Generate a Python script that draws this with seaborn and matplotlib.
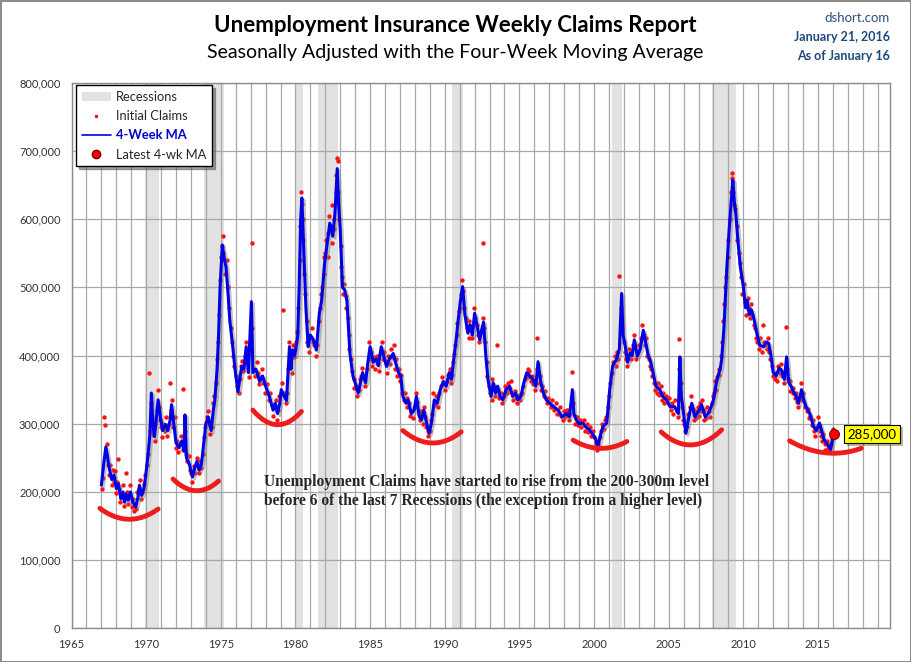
import numpy as np
import pandas as pd
import matplotlib
matplotlib.use("Agg")
import matplotlib.pyplot as plt
import matplotlib.patheffects as pe
from matplotlib.patches import Patch
from matplotlib.lines import Line2D
from matplotlib.ticker import FuncFormatter
import seaborn as sns

# 4-week moving average, (year, thousands of claims)
ma_60s = [(1967.00, 210), (1967.15, 240), (1967.30, 266), (1967.45, 245), (1967.55, 232), (1967.70, 218),
          (1967.85, 225), (1968.00, 205), (1968.15, 212), (1968.30, 190), (1968.45, 200), (1968.55, 185),
          (1968.65, 197), (1968.80, 188), (1968.95, 200), (1969.10, 185), (1969.30, 178), (1969.45, 192),
          (1969.55, 210), (1969.70, 195), (1969.85, 205)]
ma_70s = [(1970.00, 230), (1970.15, 260), (1970.25, 285), (1970.35, 345), (1970.45, 300), (1970.55, 281),
          (1970.65, 300), (1970.80, 335), (1970.95, 310), (1971.10, 290), (1971.30, 299), (1971.45, 290),
          (1971.60, 305), (1971.70, 328), (1971.85, 300), (1972.00, 272), (1972.20, 265), (1972.40, 275),
          (1972.55, 260), (1972.60, 313), (1972.70, 250), (1972.90, 240), (1973.10, 222), (1973.25, 235),
          (1973.40, 245), (1973.55, 232), (1973.70, 240), (1973.85, 270), (1974.00, 300), (1974.15, 310),
          (1974.35, 290), (1974.50, 320), (1974.60, 335), (1974.75, 380), (1974.85, 430), (1974.95, 500),
          (1975.10, 562), (1975.25, 540), (1975.35, 530), (1975.50, 486), (1975.60, 452), (1975.80, 413),
          (1975.95, 380), (1976.15, 347), (1976.30, 370), (1976.40, 384), (1976.55, 380), (1976.70, 413),
          (1976.85, 375), (1977.05, 479), (1977.15, 375), (1977.35, 380), (1977.60, 362), (1977.80, 370),
          (1978.05, 352), (1978.25, 340), (1978.50, 320), (1978.65, 330), (1978.80, 315), (1978.95, 330),
          (1979.05, 350), (1979.25, 340), (1979.40, 334), (1979.60, 413), (1979.70, 380), (1979.80, 408),
          (1979.95, 400)]
ma_80s = [(1980.15, 428), (1980.25, 500), (1980.35, 600), (1980.43, 631), (1980.55, 560), (1980.70, 470),
          (1980.85, 413), (1981.00, 430), (1981.20, 423), (1981.40, 408), (1981.60, 462), (1981.75, 480),
          (1981.95, 535), (1982.10, 560), (1982.30, 594), (1982.50, 575), (1982.65, 610), (1982.80, 674),
          (1982.90, 620), (1983.00, 584), (1983.15, 500), (1983.30, 496), (1983.45, 480), (1983.65, 403),
          (1983.85, 370), (1984.00, 360), (1984.20, 345), (1984.35, 360), (1984.50, 375), (1984.70, 360),
          (1984.85, 390), (1985.00, 413), (1985.20, 390), (1985.40, 395), (1985.55, 385), (1985.75, 413),
          (1985.90, 400), (1986.10, 384), (1986.30, 395), (1986.55, 403), (1986.70, 390), (1986.90, 375),
          (1987.05, 370), (1987.20, 340), (1987.40, 330), (1987.55, 335), (1987.75, 315), (1987.95, 320),
          (1988.10, 340), (1988.30, 310), (1988.45, 306), (1988.60, 320), (1988.80, 300), (1988.95, 286),
          (1989.10, 300), (1989.30, 335), (1989.50, 330), (1989.70, 350), (1989.90, 362)]
ma_90s = [(1990.10, 355), (1990.30, 375), (1990.45, 365), (1990.60, 394), (1990.75, 420), (1990.90, 452),
          (1991.05, 480), (1991.20, 501), (1991.35, 460), (1991.55, 433), (1991.70, 445), (1991.85, 430),
          (1992.00, 462), (1992.20, 440), (1992.35, 423), (1992.50, 440), (1992.60, 449), (1992.75, 400),
          (1992.90, 364), (1993.10, 340), (1993.25, 360), (1993.40, 345), (1993.55, 355), (1993.70, 340),
          (1993.90, 335), (1994.10, 350), (1994.35, 355), (1994.55, 340), (1994.75, 345), (1994.90, 335),
          (1995.10, 340), (1995.30, 360), (1995.50, 375), (1995.70, 370), (1995.95, 364), (1996.10, 355),
          (1996.25, 391), (1996.40, 365), (1996.60, 345), (1996.80, 335), (1997.05, 330), (1997.30, 325),
          (1997.60, 320), (1997.85, 310), (1998.15, 315), (1998.35, 310), (1998.55, 350), (1998.65, 315),
          (1998.80, 306), (1999.00, 300), (1999.25, 301), (1999.45, 295), (1999.70, 291), (1999.90, 285)]
ma_00s = [(2000.10, 278), (2000.25, 266), (2000.45, 285), (2000.60, 296), (2000.85, 301), (2001.05, 350),
          (2001.25, 385), (2001.50, 394), (2001.70, 410), (2001.85, 491), (2001.95, 430), (2002.10, 413),
          (2002.25, 390), (2002.40, 403), (2002.55, 400), (2002.70, 423), (2002.90, 399), (2003.10, 410),
          (2003.30, 437), (2003.45, 420), (2003.60, 403), (2003.80, 390), (2003.95, 375), (2004.15, 355),
          (2004.40, 350), (2004.60, 340), (2004.85, 335), (2005.10, 325), (2005.40, 325), (2005.65, 315),
          (2005.75, 398), (2005.85, 340), (2006.00, 315), (2006.15, 286), (2006.35, 310), (2006.55, 330),
          (2006.75, 310), (2006.90, 315), (2007.05, 320), (2007.20, 328), (2007.45, 310), (2007.65, 315),
          (2007.85, 325), (2008.00, 335), (2008.15, 355), (2008.30, 370), (2008.45, 380), (2008.55, 394),
          (2008.70, 440), (2008.75, 462), (2008.90, 530), (2009.05, 584), (2009.20, 630), (2009.30, 657),
          (2009.40, 625), (2009.50, 608), (2009.65, 565), (2009.80, 530)]
ma_10s = [(2010.00, 501), (2010.15, 470), (2010.25, 481), (2010.40, 460), (2010.55, 467), (2010.75, 450),
          (2010.90, 433), (2011.10, 415), (2011.35, 413), (2011.55, 420), (2011.70, 418), (2011.85, 400),
          (2012.00, 375), (2012.20, 370), (2012.40, 382), (2012.55, 379), (2012.75, 365), (2012.90, 398),
          (2013.05, 360), (2013.20, 355), (2013.40, 345), (2013.55, 340), (2013.70, 330), (2013.90, 350),
          (2014.05, 335), (2014.20, 325), (2014.45, 315), (2014.70, 296), (2014.90, 290), (2015.10, 301),
          (2015.25, 290), (2015.40, 277), (2015.55, 272), (2015.70, 268), (2015.85, 262), (2016.05, 285)]

# weekly initial claims (a readable subset of the dots), thousands
claims_60s = [(1967.02, 205), (1967.08, 220), (1967.15, 310), (1967.22, 298), (1967.28, 255), (1967.35, 270),
              (1967.42, 240), (1967.5, 225), (1967.6, 240), (1967.68, 210), (1967.75, 232), (1967.82, 215),
              (1967.9, 230), (1968.0, 198), (1968.07, 215), (1968.12, 248), (1968.2, 205), (1968.28, 185),
              (1968.35, 195), (1968.42, 210), (1968.5, 180), (1968.58, 192), (1968.62, 228), (1968.7, 200),
              (1968.78, 182), (1968.88, 195), (1968.95, 210), (1969.02, 178), (1969.1, 190), (1969.18, 172),
              (1969.25, 183), (1969.35, 175), (1969.4, 200), (1969.5, 205), (1969.58, 218), (1969.65, 190),
              (1969.75, 200), (1969.85, 212), (1969.95, 225)]
claims_70s = [(1970.05, 240), (1970.12, 255), (1970.2, 374), (1970.28, 290), (1970.32, 330), (1970.4, 310),
              (1970.48, 285), (1970.58, 275), (1970.62, 300), (1970.7, 320), (1970.78, 350), (1970.85, 325),
              (1970.92, 305), (1971.0, 295), (1971.08, 280), (1971.15, 300), (1971.25, 290), (1971.35, 310),
              (1971.42, 282), (1971.5, 300), (1971.58, 360), (1971.65, 320), (1971.75, 335), (1971.82, 295),
              (1971.9, 310), (1971.98, 265), (1972.08, 275), (1972.15, 258), (1972.25, 270), (1972.32, 282),
              (1972.45, 351), (1972.5, 262), (1972.58, 290), (1972.65, 255), (1972.75, 245), (1972.85, 252),
              (1972.95, 232), (1973.02, 228), (1973.1, 215), (1973.18, 238), (1973.3, 228), (1973.38, 250),
              (1973.45, 240), (1973.52, 228), (1973.6, 245), (1973.68, 235), (1973.78, 255), (1973.88, 280),
              (1973.95, 295), (1974.05, 310), (1974.12, 318), (1974.2, 300), (1974.3, 285), (1974.42, 295),
              (1974.48, 330), (1974.55, 340), (1974.65, 360), (1974.72, 395), (1974.8, 420), (1974.88, 460),
              (1974.92, 510), (1975.0, 545), (1975.05, 560), (1975.12, 575), (1975.18, 550), (1975.3, 520),
              (1975.4, 540), (1975.45, 500), (1975.55, 470), (1975.65, 440), (1975.72, 420), (1975.85, 400),
              (1975.9, 385), (1976.02, 370), (1976.1, 355), (1976.2, 345), (1976.28, 365), (1976.35, 385),
              (1976.45, 392), (1976.52, 378), (1976.62, 400), (1976.68, 420), (1976.78, 390), (1976.9, 368),
              (1977.0, 420), (1977.08, 565), (1977.12, 440), (1977.22, 380), (1977.3, 370), (1977.4, 390),
              (1977.5, 375), (1977.55, 358), (1977.65, 368), (1977.75, 380), (1977.85, 360), (1977.95, 345),
              (1978.1, 358), (1978.2, 335), (1978.3, 345), (1978.4, 328), (1978.48, 312), (1978.58, 325),
              (1978.7, 335), (1978.75, 305), (1978.85, 320), (1978.92, 340), (1979.0, 345), (1979.1, 360),
              (1979.2, 467), (1979.3, 345), (1979.35, 330), (1979.45, 345), (1979.52, 380), (1979.58, 420),
              (1979.65, 395), (1979.75, 375), (1979.82, 415), (1979.9, 398), (1979.98, 410)]
claims_80s = [(1980.05, 420), (1980.12, 435), (1980.2, 470), (1980.28, 540), (1980.32, 590), (1980.38, 640),
              (1980.42, 622), (1980.48, 600), (1980.52, 570), (1980.6, 520), (1980.65, 490), (1980.75, 450),
              (1980.8, 420), (1980.9, 405), (1980.98, 425), (1981.08, 440), (1981.15, 420), (1981.25, 415),
              (1981.35, 400), (1981.45, 415), (1981.55, 450), (1981.65, 470), (1981.7, 490), (1981.8, 500),
              (1981.88, 520), (1981.92, 545), (1982.0, 550), (1982.05, 570), (1982.15, 545), (1982.2, 580),
              (1982.28, 605), (1982.35, 590), (1982.42, 620), (1982.48, 565), (1982.55, 585), (1982.6, 600),
              (1982.7, 640), (1982.75, 665), (1982.78, 690), (1982.82, 685), (1982.88, 640), (1982.95, 600),
              (1983.02, 560), (1983.08, 530), (1983.12, 515), (1983.2, 490), (1983.28, 505), (1983.38, 488),
              (1983.42, 470), (1983.5, 455), (1983.58, 430), (1983.62, 410), (1983.72, 395), (1983.8, 378),
              (1983.9, 365), (1983.95, 352), (1984.05, 355), (1984.12, 340), (1984.25, 350), (1984.3, 365),
              (1984.42, 370), (1984.48, 382), (1984.58, 365), (1984.65, 355), (1984.78, 380), (1984.9, 395),
              (1984.95, 420), (1985.05, 405), (1985.12, 385), (1985.25, 398), (1985.32, 380), (1985.45, 400),
              (1985.5, 388), (1985.6, 378), (1985.7, 405), (1985.8, 420), (1985.85, 395), (1985.95, 405),
              (1986.05, 392), (1986.15, 375), (1986.22, 400), (1986.35, 388), (1986.42, 410), (1986.5, 398),
              (1986.6, 415), (1986.65, 380), (1986.75, 395), (1986.82, 370), (1986.95, 380), (1987.0, 362),
              (1987.1, 372), (1987.15, 345), (1987.25, 335), (1987.32, 345), (1987.45, 325), (1987.5, 338),
              (1987.6, 330), (1987.68, 312), (1987.8, 318), (1987.88, 308), (1988.0, 325), (1988.05, 345),
              (1988.15, 332), (1988.25, 315), (1988.35, 305), (1988.4, 318), (1988.52, 300), (1988.58, 325),
              (1988.68, 310), (1988.75, 295), (1988.85, 290), (1988.9, 282), (1989.0, 290), (1989.05, 305),
              (1989.15, 315), (1989.22, 345), (1989.35, 328), (1989.42, 340), (1989.55, 325), (1989.62, 345),
              (1989.75, 355), (1989.82, 368), (1989.95, 358)]
claims_90s = [(1990.05, 350), (1990.15, 362), (1990.22, 372), (1990.35, 380), (1990.4, 360), (1990.5, 372),
              (1990.55, 390), (1990.65, 402), (1990.7, 415), (1990.8, 430), (1990.85, 448), (1990.95, 465),
              (1991.0, 470), (1991.1, 490), (1991.15, 510), (1991.25, 495), (1991.3, 470), (1991.4, 455),
              (1991.48, 440), (1991.6, 425), (1991.65, 450), (1991.75, 440), (1991.8, 425), (1991.92, 445),
              (1991.98, 470), (1992.05, 455), (1992.15, 445), (1992.25, 430), (1992.3, 420), (1992.42, 435),
              (1992.55, 565), (1992.58, 455), (1992.65, 440), (1992.7, 420), (1992.8, 390), (1992.85, 370),
              (1992.95, 355), (1993.05, 345), (1993.15, 335), (1993.2, 365), (1993.3, 355), (1993.35, 340),
              (1993.45, 350), (1993.5, 415), (1993.6, 350), (1993.65, 338), (1993.75, 345), (1993.82, 330),
              (1993.95, 340), (1994.05, 355), (1994.15, 345), (1994.25, 360), (1994.3, 350), (1994.42, 362),
              (1994.5, 345), (1994.6, 335), (1994.68, 348), (1994.8, 338), (1994.85, 330), (1994.95, 342),
              (1995.05, 335), (1995.15, 345), (1995.22, 355), (1995.35, 365), (1995.42, 370), (1995.55, 380),
              (1995.6, 368), (1995.65, 378), (1995.75, 362), (1995.85, 370), (1995.9, 358), (1996.02, 360),
              (1996.05, 350), (1996.15, 425), (1996.2, 380), (1996.3, 360), (1996.35, 370), (1996.45, 350),
              (1996.52, 355), (1996.65, 340), (1996.72, 348), (1996.85, 330), (1996.95, 338), (1997.1, 325),
              (1997.2, 335), (1997.35, 320), (1997.45, 330), (1997.55, 315), (1997.7, 325), (1997.78, 312),
              (1997.92, 305), (1998.0, 318), (1998.08, 310), (1998.22, 320), (1998.3, 305), (1998.42, 315),
              (1998.5, 376), (1998.6, 330), (1998.7, 312), (1998.75, 300), (1998.88, 310), (1998.95, 298),
              (1999.05, 305), (1999.15, 295), (1999.3, 305), (1999.38, 290), (1999.5, 300), (1999.6, 288),
              (1999.75, 295), (1999.82, 282), (1999.95, 290)]
claims_00s = [(2000.02, 280), (2000.15, 272), (2000.2, 262), (2000.3, 270), (2000.38, 280), (2000.5, 290),
              (2000.55, 300), (2000.68, 292), (2000.75, 305), (2000.8, 310), (2000.95, 325), (2001.0, 340),
              (2001.1, 360), (2001.18, 375), (2001.3, 390), (2001.38, 400), (2001.45, 385), (2001.55, 405),
              (2001.62, 395), (2001.7, 516), (2001.78, 470), (2001.82, 450), (2001.9, 440), (2002.0, 420),
              (2002.05, 405), (2002.15, 395), (2002.2, 385), (2002.3, 400), (2002.35, 410), (2002.45, 395),
              (2002.5, 405), (2002.6, 415), (2002.65, 430), (2002.75, 415), (2002.82, 395), (2002.95, 405),
              (2003.02, 415), (2003.15, 425), (2003.22, 445), (2003.35, 430), (2003.4, 415), (2003.5, 425),
              (2003.55, 400), (2003.65, 395), (2003.72, 385), (2003.85, 380), (2003.9, 370), (2004.0, 360),
              (2004.08, 350), (2004.2, 345), (2004.28, 360), (2004.35, 342), (2004.48, 355), (2004.55, 335),
              (2004.65, 345), (2004.72, 330), (2004.8, 340), (2004.95, 330), (2005.02, 338), (2005.15, 320),
              (2005.22, 330), (2005.3, 315), (2005.45, 335), (2005.55, 318), (2005.6, 310), (2005.7, 424),
              (2005.72, 380), (2005.8, 360), (2005.9, 325), (2005.95, 305), (2006.05, 300), (2006.1, 290),
              (2006.2, 295), (2006.28, 315), (2006.4, 325), (2006.48, 340), (2006.6, 322), (2006.68, 305),
              (2006.8, 318), (2006.85, 308), (2006.95, 325), (2007.02, 312), (2007.1, 330), (2007.15, 318),
              (2007.25, 335), (2007.35, 305), (2007.4, 320), (2007.52, 308), (2007.58, 325), (2007.72, 318),
              (2007.78, 310), (2007.9, 330), (2007.95, 340), (2008.05, 345), (2008.1, 362), (2008.2, 350),
              (2008.25, 368), (2008.35, 380), (2008.4, 372), (2008.5, 400), (2008.6, 420), (2008.65, 450),
              (2008.72, 475), (2008.8, 500), (2008.85, 515), (2008.95, 545), (2009.0, 570), (2009.1, 600),
              (2009.15, 640), (2009.22, 660), (2009.25, 667), (2009.32, 640), (2009.35, 620), (2009.45, 615),
              (2009.55, 590), (2009.6, 570), (2009.7, 550), (2009.75, 535), (2009.85, 515), (2009.92, 490)]
claims_10s = [(2010.05, 505), (2010.1, 478), (2010.2, 460), (2010.3, 485), (2010.35, 470), (2010.45, 455),
              (2010.5, 475), (2010.6, 460), (2010.7, 445), (2010.8, 440), (2010.85, 425), (2010.95, 420),
              (2011.05, 410), (2011.15, 425), (2011.25, 405), (2011.3, 445), (2011.4, 420), (2011.45, 415),
              (2011.6, 410), (2011.65, 425), (2011.75, 405), (2011.8, 395), (2011.92, 385), (2011.98, 370),
              (2012.1, 365), (2012.15, 375), (2012.25, 362), (2012.3, 385), (2012.45, 375), (2012.5, 388),
              (2012.6, 370), (2012.7, 360), (2012.8, 372), (2012.85, 442), (2012.95, 380), (2013.0, 365),
              (2013.1, 348), (2013.15, 362), (2013.3, 345), (2013.35, 352), (2013.45, 338), (2013.5, 345),
              (2013.62, 332), (2013.68, 325), (2013.8, 340), (2013.85, 360), (2013.95, 335), (2014.0, 345),
              (2014.12, 325), (2014.25, 318), (2014.35, 322), (2014.4, 308), (2014.5, 312), (2014.6, 298),
              (2014.65, 305), (2014.75, 290), (2014.82, 282), (2014.95, 295), (2015.0, 310), (2015.05, 298),
              (2015.15, 290), (2015.2, 282), (2015.3, 275), (2015.35, 285), (2015.45, 270), (2015.5, 262),
              (2015.62, 275), (2015.68, 265), (2015.75, 258), (2015.8, 268), (2015.9, 272), (2015.95, 278),
              (2016.0, 292), (2016.03, 284)]

latest_year = 2016.05
latest_value = 285

# NBER recessions (start, end) as decimal years
rec_start = [1969.92, 1973.87, 1980.0, 1981.5, 1990.5, 2001.2, 2007.92]
rec_end = [1970.87, 1975.2, 1980.5, 1982.87, 1991.2, 2001.87, 2009.5]

# hand-drawn red "smile" marks under the troughs: left, bottom, right
arc_x = [(1966.9, 1968.9, 1970.8), (1971.8, 1973.25, 1974.85), (1977.15, 1978.6, 1980.4),
         (1987.2, 1989.0, 1991.1), (1998.6, 2000.3, 2002.2), (2004.5, 2006.4, 2008.55),
         (2013.1, 2015.7, 2017.9)]
arc_y = [(176, 160, 175), (219, 202, 216), (320, 299, 318), (290, 272, 288),
         (276, 264, 274), (288, 269, 291), (275, 257, 264)]

note = ("Unemployment Claims have started to rise from the 200-300m level\n"
        "before 6 of the last 7 Recessions (the exception from a higher level)")

ma = pd.DataFrame(ma_60s + ma_70s + ma_80s + ma_90s + ma_00s + ma_10s, columns=["year", "claims"])
claims = pd.DataFrame(claims_60s + claims_70s + claims_80s + claims_90s + claims_00s + claims_10s,
                      columns=["year", "claims"])
latest = pd.DataFrame({"year": [latest_year], "claims": [latest_value]})

sns.set_style("white")
plt.rcParams["font.family"] = ["Lato", "DejaVu Sans"]

fig = plt.figure(figsize=(9.11, 6.62), dpi=100)
fig.patch.set_edgecolor("#8c8c8c")
fig.patch.set_linewidth(2)
ax = fig.add_axes([0.0785, 0.0508, 0.8985, 0.8243])

for s, e in zip(rec_start, rec_end):
    ax.axvspan(s, e, color="#e2e2e2", lw=0, zorder=0.2)

sns.scatterplot(data=claims, x="year", y="claims", color="#ff1010", s=10, linewidth=0,
                ax=ax, zorder=2, legend=False)
sns.lineplot(data=ma, x="year", y="claims", color="#0000e6", lw=2.2, ax=ax, zorder=3,
             path_effects=[pe.SimpleLineShadow(offset=(1.5, -1.5), shadow_color="#7a7a7a", alpha=0.45),
                           pe.Normal()])
sns.scatterplot(data=latest, x="year", y="claims", color="#ff0000", s=50, edgecolor="#700000",
                linewidth=0.8, ax=ax, zorder=5, legend=False)
lab = ax.annotate(f"{latest_value * 1000:,}", xy=(latest_year, latest_value), xytext=(10, 0),
                  textcoords="offset points", ha="left", va="center", fontsize=9.5, color="black",
                  bbox=dict(boxstyle="square,pad=0.25", fc="#ffff00", ec="black", lw=0.8),
                  annotation_clip=False, zorder=6)
lab.get_bbox_patch().set_path_effects([pe.SimplePatchShadow(offset=(2, -2), alpha=0.4), pe.Normal()])

for xs, ys in zip(arc_x, arc_y):
    coef = np.polyfit(xs, ys, 2)
    xx = np.linspace(xs[0], xs[2], 60)
    ax.plot(xx, np.polyval(coef, xx), color="#ee1c1c", lw=3.5, solid_capstyle="round", zorder=4)

ax.text(1977.9, 200, note, ha="left", va="center", fontsize=11.2, fontweight="bold",
        family=["Liberation Serif", "DejaVu Serif"], linespacing=1.25, zorder=6)

ax.set_xlim(1965, 2019.83)
ax.set_ylim(0, 800)
ax.set_xticks(range(1965, 2016, 5))
ax.set_xticks(range(1965, 2020), minor=True)
ax.set_yticks(range(0, 801, 100))
ax.yaxis.set_major_formatter(FuncFormatter(lambda v, p: f"{int(v * 1000):,}"))
ax.tick_params(axis="both", which="both", length=0, labelsize=8, labelcolor="#333333")
ax.tick_params(axis="x", pad=8)
ax.tick_params(axis="y", pad=8)
ax.grid(True, which="both", color="#a8a8a8", lw=0.9)
ax.set_axisbelow(True)
ax.set_xlabel("")
ax.set_ylabel("")
for sp in ax.spines.values():
    sp.set_color("#8c8c8c")
    sp.set_linewidth(1)

handles = [Patch(facecolor="#e2e2e2", edgecolor="none"),
           Line2D([], [], marker=".", ls="none", color="#ff1010", ms=3),
           Line2D([], [], color="#0000e6", lw=1.2),
           Line2D([], [], marker="o", ls="none", color="#ff0000", mec="#700000", ms=6)]
leg = ax.legend(handles, ["Recessions", "Initial Claims", "4-Week MA", "Latest 4-wk MA"],
                loc="upper left", bbox_to_anchor=(0.006, 0.995), borderaxespad=0, fontsize=9.3,
                frameon=True, fancybox=False, shadow=True, edgecolor="black", framealpha=1,
                handlelength=2.2, handletextpad=0.4, labelspacing=0.55, borderpad=0.45)
leg.get_frame().set_linewidth(1)
leg.get_texts()[2].set_color("#0000cc")
leg.get_texts()[2].set_fontweight("bold")

fig.text(0.4995, 0.962, "Unemployment Insurance Weekly Claims Report", ha="center", va="center",
         fontsize=16, fontweight="bold", color="black")
fig.text(0.4995, 0.92, "Seasonally Adjusted with the Four-Week Moving Average", ha="center",
         va="center", fontsize=14, color="black")
fig.text(0.977, 0.973, "dshort.com", ha="right", va="center", fontsize=9.5, color="#2f4f7f")
fig.text(0.977, 0.944, "January 21, 2016", ha="right", va="center", fontsize=9, color="#1f497d",
         fontweight="bold")
fig.text(0.977, 0.915, "As of January 16", ha="right", va="center", fontsize=9, color="#1f497d",
         fontweight="bold")

fig.savefig("out.png", dpi=100, edgecolor=fig.get_edgecolor())
